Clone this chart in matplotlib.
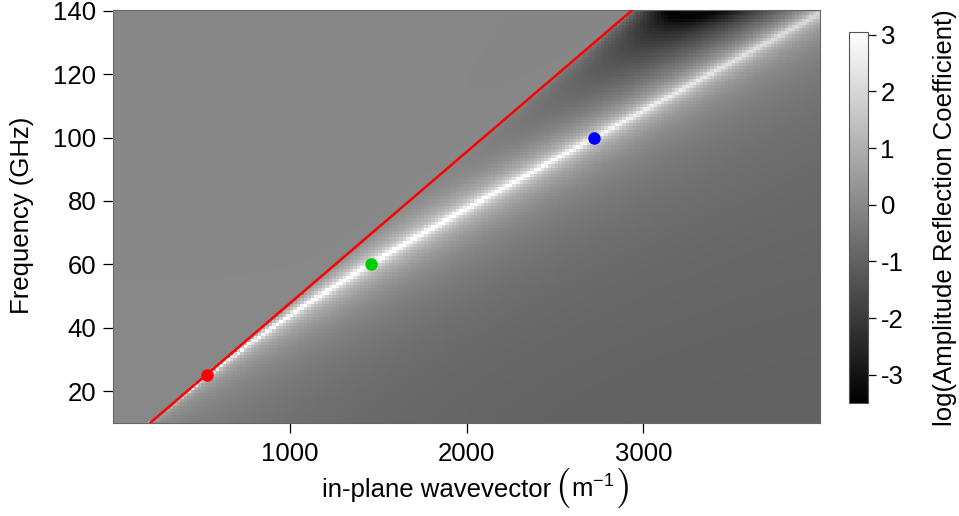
import numpy as np
import matplotlib
matplotlib.use('Agg')
import matplotlib.pyplot as plt

plt.rcParams['font.family'] = ['Liberation Sans', 'DejaVu Sans']
plt.rcParams['mathtext.fontset'] = 'custom'
plt.rcParams['mathtext.rm'] = 'Liberation Sans'
plt.rcParams['axes.unicode_minus'] = False

# grid of the map (cell centres)
k_vals = np.arange(10, 4000, 20)        # in-plane wavevector, 1/m
f_vals = np.arange(10, 141, 1)          # frequency, GHz

# grounded dielectric slab used for the reflection map
slab_eps = 2.18
slab_loss = 0.012
slab_d = 8.2e-4                          # m
c0 = 2.998e8

# marked points on the dispersion
dot_k = [534, 1457, 2722]
dot_f = [25, 60, 100]
dot_col = ['#ff0000', '#00cd00', '#0000ff']

xticks = [1000, 2000, 3000]
yticks = [20, 40, 60, 80, 100, 120, 140]
cticks = [-3, -2, -1, 0, 1, 2, 3]
cmin, cmax = -3.5, 3.05

# reflection coefficient, TM, exp(jwt) convention
K, F = np.meshgrid(k_vals, f_vals)
k0 = 2 * np.pi * F * 1e9 / c0
eps_c = slab_eps * (1 - 1j * slab_loss)
kz0 = np.conj(np.sqrt((k0**2 - K**2).astype(complex)))
kd = np.sqrt(eps_c * k0**2 - K**2 + 0j)
X = kd * np.tan(kd * slab_d)
r = (1j * X - eps_c * kz0) / (1j * X + eps_c * kz0)
logr = np.log(np.abs(r))

fig = plt.figure(figsize=(9.59, 5.16), dpi=100)
ax = fig.add_axes([113/959, 1-423/516, (820-113)/959, (423-10)/516])
cax = fig.add_axes([849/959, 1-403/516, 19/959, (403-32)/516])

im = ax.pcolormesh(k_vals, f_vals, logr, cmap='gray', vmin=cmin, vmax=cmax,
                   shading='nearest', rasterized=True)

# light line
kl = np.array([0, 4000])
ax.plot(kl, c0 * kl / (2 * np.pi) / 1e9, color='#ff0000', lw=1.8, zorder=3)
for kk, ff, cc in zip(dot_k, dot_f, dot_col):
    ax.plot(kk, ff, 'o', color=cc, ms=9, mec='none', zorder=4)

ax.set_xlim(0, 4000)
ax.set_ylim(10, 140.2)
ax.set_xticks(xticks)
ax.set_yticks(yticks)
ax.tick_params(labelsize=18.5, length=7, width=0.9, pad=5)
ax.tick_params(axis='x', pad=7)
for s in ax.spines.values():
    s.set_color('#666666')
    s.set_linewidth(0.8)

cb = fig.colorbar(im, cax=cax, ticks=cticks)
cb.outline.set_edgecolor('#555555')
cb.outline.set_linewidth(0.8)
cb.ax.tick_params(labelsize=18.5, length=6, width=0.9, pad=3)

# x label in pieces so the brackets can be tall
yb = 1 - 497/516
yc = 1 - 488/516
t1 = fig.text(322/959, yb, 'in-plane wavevector', ha='left', va='baseline',
              fontsize=18.5)
lp = ax.annotate(r'$($', xy=(1, yc), xycoords=(t1, 'figure fraction'),
                 xytext=(3, 0), textcoords='offset points', ha='left', va='center',
                 fontsize=29, math_fontfamily='cm', annotation_clip=False)
mm = ax.annotate(r'$\mathrm{m}^{-1}$', xy=(1, yb), xycoords=(lp, 'figure fraction'),
                 xytext=(0, 0), textcoords='offset points', ha='left', va='baseline',
                 fontsize=18.5, annotation_clip=False)
rp = ax.annotate(r'$)$', xy=(1, yc), xycoords=(mm, 'figure fraction'),
                 xytext=(0.5, 0), textcoords='offset points', ha='left', va='center',
                 fontsize=29, math_fontfamily='cm', annotation_clip=False)

fig.text(22/959, 1-215/516, 'Frequency (GHz)', rotation=90,
         ha='center', va='center', fontsize=18.5)
fig.text(945/959, 1-218/516, 'log(Amplitude Reflection Coefficient)', rotation=90,
         ha='center', va='center', fontsize=18.5)

fig.savefig('out.png', dpi=100)
